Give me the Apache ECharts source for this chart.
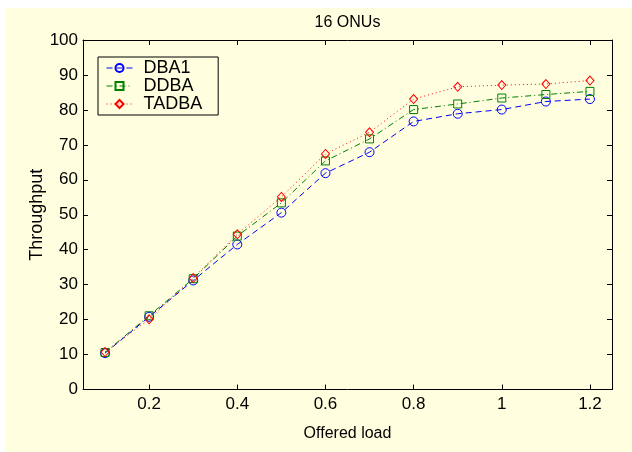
<!DOCTYPE html>
<html>
<head>
<meta charset="utf-8">
<script src="https://cdn.jsdelivr.net/npm/echarts@6/dist/echarts.min.js"></script>
<style>
html,body{margin:0;padding:0;background:#fff;}
#c{width:632px;height:452px;}
</style>
</head>
<body>
<div id="c"></div>
<script>
var loads = [0.1, 0.2, 0.3, 0.4, 0.5, 0.6, 0.7, 0.8, 0.9, 1.0, 1.1, 1.2];
var dba1  = [10.4, 20.8, 31.2, 41.5, 50.6, 61.9, 67.9, 76.7, 78.9, 80.1, 82.4, 83.1];
var ddba  = [10.6, 21.1, 31.7, 43.9, 53.4, 65.4, 71.7, 80.1, 81.7, 83.4, 84.4, 85.3];
var tadba = [10.7, 20.1, 31.9, 44.4, 55.1, 67.4, 73.6, 83.1, 86.6, 87.1, 87.4, 88.4];
var xTicks = [0.2, 0.4, 0.6, 0.8, 1, 1.2];
var yTicks = [0, 10, 20, 30, 40, 50, 60, 70, 80, 90, 100];
var seriesNames = ['DBA1', 'DDBA', 'TADBA'];

var FONT = 'Arial, "Liberation Sans", sans-serif';
var BG = '#FFFFE0';

function pairs(ys) { return loads.map(function (x, i) { return [x, ys[i]]; }); }

var chart = echarts.init(document.getElementById('c'), null, {renderer: 'canvas'});

var axisCommon = {
  type: 'value',
  axisLine: {show: true, onZero: false, lineStyle: {color: '#000', width: 1}},
  splitLine: {show: false},
  axisTick: {show: true, inside: true, length: 5, lineStyle: {color: '#000', width: 1}}
};

chart.setOption({
  backgroundColor: BG,
  animation: false,
  graphic: [
    {type: 'rect', shape: {x: 0, y: 0, width: 632, height: 8}, style: {fill: '#fff'}, silent: true},
    {type: 'rect', shape: {x: 0, y: 0, width: 5, height: 452}, style: {fill: '#fff'}, silent: true}
  ],
  grid: {left: 83, top: 40, right: 20, bottom: 62.5, containLabel: false},
  legend: {
    data: seriesNames,
    orient: 'vertical',
    left: 98, top: 57,
    backgroundColor: BG,
    borderColor: '#000', borderWidth: 1, borderRadius: 0,
    padding: [2, 16, 2, 8],
    itemGap: 0,
    itemWidth: 26, itemHeight: 10,
    lineStyle: {width: 1, type: 'inherit'},
    textStyle: {fontFamily: FONT, fontSize: 18, color: '#000', lineHeight: 17, padding: [0, 0, 0, 6]}
  },
  xAxis: [
    Object.assign({}, axisCommon, {
      position: 'bottom', min: 0.05, max: 1.25,
      name: 'Offered load', nameLocation: 'middle', nameGap: 36, nameMoveOverlap: false,
      nameTextStyle: {fontFamily: FONT, fontSize: 16, color: '#000'},
      axisTick: Object.assign({}, axisCommon.axisTick, {customValues: xTicks}),
      axisLabel: {customValues: xTicks, fontFamily: FONT, fontSize: 17, color: '#000', margin: 6,
        formatter: function (v) { return String(Math.round(v * 10) / 10); }}
    }),
    Object.assign({}, axisCommon, {
      position: 'top', min: 0.05, max: 1.25,
      name: '16 ONUs', nameLocation: 'middle', nameGap: 9, nameMoveOverlap: false,
      nameTextStyle: {fontFamily: FONT, fontSize: 16, color: '#000'},
      axisTick: Object.assign({}, axisCommon.axisTick, {customValues: xTicks}),
      axisLabel: {show: false}
    })
  ],
  yAxis: [
    Object.assign({}, axisCommon, {
      position: 'left', min: 0, max: 100, interval: 10,
      name: 'Throughput', nameLocation: 'middle', nameGap: 37, nameMoveOverlap: false,
      nameTextStyle: {fontFamily: FONT, fontSize: 18, color: '#000'},
      axisLabel: {fontFamily: FONT, fontSize: 17, color: '#000', margin: 5,
        customValues: yTicks}
    }),
    Object.assign({}, axisCommon, {
      position: 'right', min: 0, max: 100, interval: 10,
      axisLabel: {show: false}
    })
  ],
  series: [
    {
      name: seriesNames[0], type: 'line', data: pairs(dba1),
      symbol: 'circle', symbolSize: 9,
      lineStyle: {color: '#0000FF', width: 1, type: [6, 4]},
      itemStyle: {color: 'rgba(0,0,0,0)', borderColor: '#0000FF', borderWidth: 1}
    },
    {
      name: seriesNames[1], type: 'line', data: pairs(ddba),
      symbol: 'rect', symbolSize: 8,
      lineStyle: {color: '#008000', width: 1, type: [6, 3, 1, 3]},
      itemStyle: {color: 'rgba(0,0,0,0)', borderColor: '#008000', borderWidth: 1}
    },
    {
      name: seriesNames[2], type: 'line', data: pairs(tadba),
      symbol: 'diamond', symbolSize: [8, 9],
      lineStyle: {color: '#FF0000', width: 1, type: [1, 3]},
      itemStyle: {color: 'rgba(0,0,0,0)', borderColor: '#FF0000', borderWidth: 1}
    }
  ]
});
</script>
</body>
</html>
